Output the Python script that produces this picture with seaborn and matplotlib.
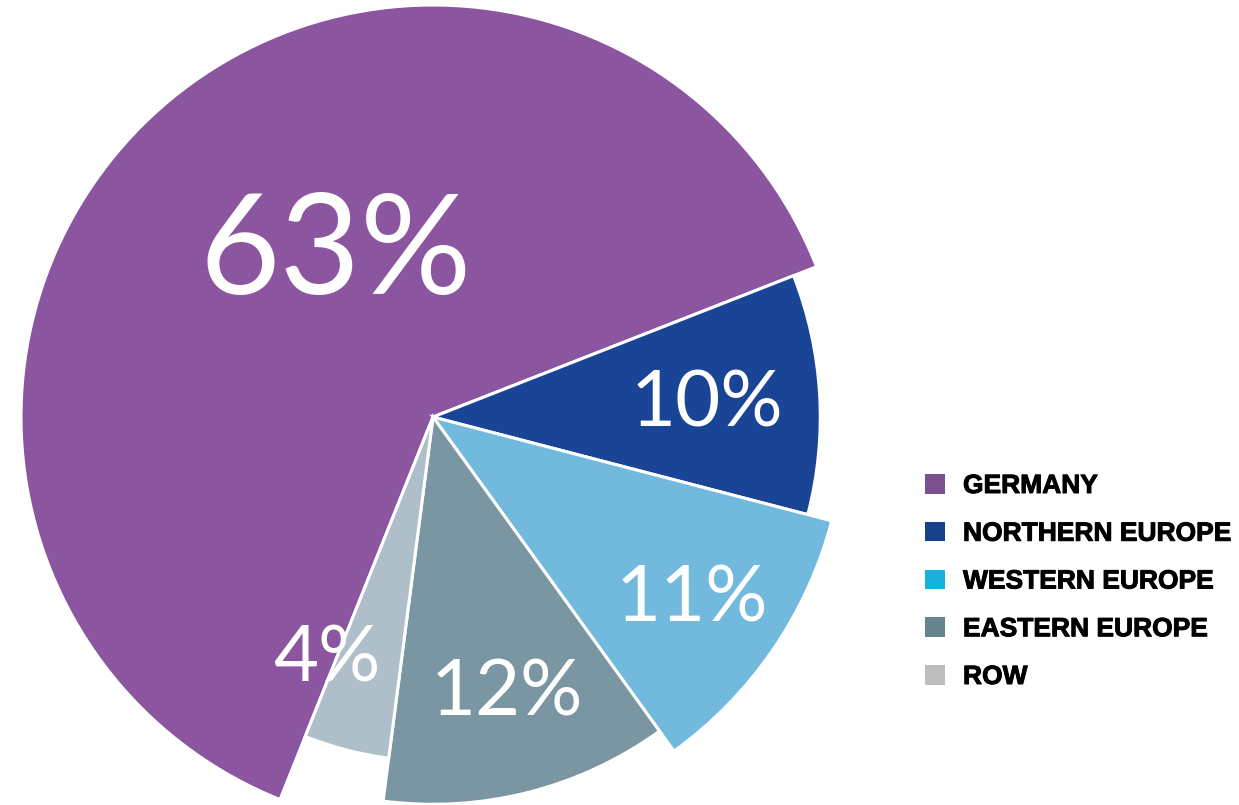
import matplotlib
matplotlib.use("Agg")
import matplotlib.pyplot as plt
import matplotlib.patheffects as pe
import seaborn as sns
import numpy as np
from matplotlib.patches import Patch
from matplotlib.font_manager import FontProperties

sns.set_theme(style="white")
plt.rcParams["font.family"] = ["Liberation Sans", "DejaVu Sans"]

# ---- data ----
regions = ["GERMANY", "NORTHERN EUROPE", "WESTERN EUROPE", "EASTERN EUROPE", "ROW"]
shares = [63, 10, 11, 12, 4]

# ---- styles ----
slice_colors = ["#8B559F", "#1A4496", "#71BADE", "#7A96A2", "#AEBFCA"]
legend_colors = ["#7B4F8E", "#17418A", "#1AB0DC", "#67848E", "#BEBEBE"]
radii = [1.0, 0.94, 1.0, 0.94, 0.835]
label_dist = [0.485, 0.667, 0.76, 0.68, 0.63]
label_turn = [-15.8, 0.4, 0.2, 1.1, -9.6]   # degrees, label placement tweak
label_size = [100, 56, 56, 56, 56]

W, H = 1239, 805
fig = plt.figure(figsize=(W / 100, H / 100), dpi=100)
cx, cy, R = 433, 417, 412
ax = fig.add_axes([(cx - R) / W, (H - cy - R) / H, 2 * R / W, 2 * R / H])

wedges, _ = ax.pie(
    shares, colors=slice_colors, startangle=248.2, counterclock=False,
    radius=1.0, wedgeprops=dict(edgecolor="white", linewidth=2.2),
)
for w, r in zip(wedges, radii):
    w.set_radius(r)
    w.set_clip_on(False)

pct_font = FontProperties(family=["Lato", "DejaVu Sans"], weight="normal")
for w, s, d, t, fs in zip(wedges, shares, label_dist, label_turn, label_size):
    mid = np.deg2rad((w.theta1 + w.theta2) / 2 + t)
    ax.annotate(f"{s}%", xy=(d * np.cos(mid), d * np.sin(mid)),
                xytext=(0, -0.085 * fs), textcoords="offset points",
                color="white", fontproperties=pct_font, fontsize=fs,
                ha="center", va="center")

ax.set_xlim(-1, 1)
ax.set_ylim(-1, 1)
ax.set_aspect("auto")
ax.axis("off")

leg_font = FontProperties(family="Liberation Sans", weight="bold", size=19)
handles = [Patch(facecolor=c, edgecolor="none") for c in legend_colors]
leg = fig.legend(handles, regions, loc="upper left",
                 bbox_to_anchor=(925 / W, 1 - 474 / H), frameon=False,
                 prop=leg_font,
                 handlelength=0.76, handleheight=0.76, handletextpad=0.68,
                 labelspacing=0.9, borderpad=0, borderaxespad=0)
for txt in leg.get_texts():
    txt.set_fontweight("bold")
    txt.set_color("#000000")
    txt.set_path_effects([pe.withStroke(linewidth=0.7, foreground="#000000")])

fig.savefig("out.png", dpi=100, facecolor="white")
